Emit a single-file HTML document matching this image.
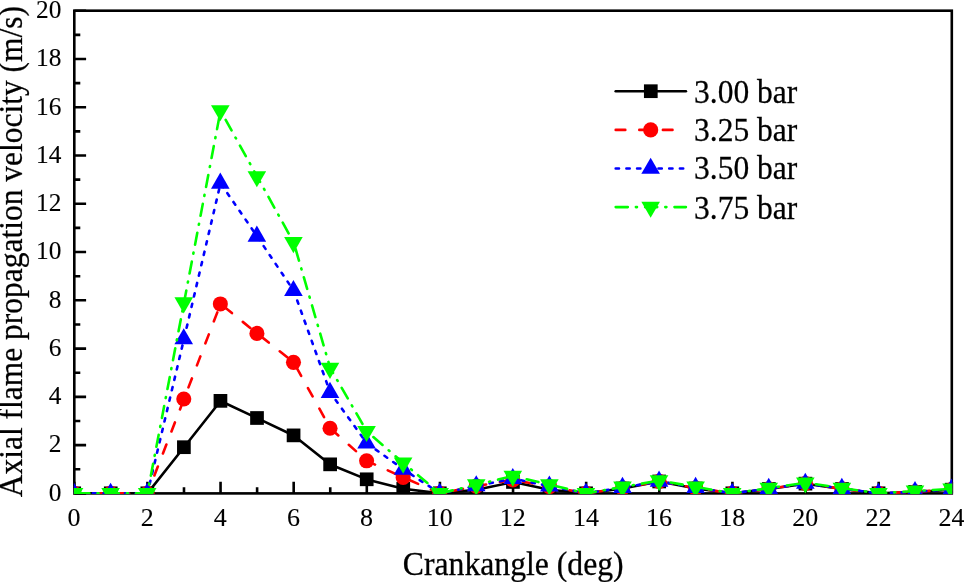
<!DOCTYPE html>
<html><head><meta charset="utf-8"><title>chart</title>
<style>
html,body{margin:0;padding:0;background:#fff;}
body{width:964px;height:582px;overflow:hidden;font-family:"Liberation Serif",serif;}
svg{display:block;will-change:transform;transform:translateZ(0);}
text{font-family:"Liberation Serif",serif;fill:#000;stroke:#000;stroke-width:0.25px;}
</style></head><body>
<svg width="964" height="582" viewBox="0 0 964 582">
<rect x="0" y="0" width="964" height="582" fill="#fff"/>
<defs><clipPath id="cp"><rect x="73.8" y="10" width="878.5" height="484"/></clipPath></defs>

<rect x="74.3" y="10.7" width="877.50" height="482.70" fill="none" stroke="#000" stroke-width="2.6"/>
<path d="M74.30 493.4 V481.80 M110.86 493.4 V487.20 M147.43 493.4 V481.80 M183.99 493.4 V487.20 M220.55 493.4 V481.80 M257.11 493.4 V487.20 M293.68 493.4 V481.80 M330.24 493.4 V487.20 M366.80 493.4 V481.80 M403.36 493.4 V487.20 M439.93 493.4 V481.80 M476.49 493.4 V487.20 M513.05 493.4 V481.80 M549.61 493.4 V487.20 M586.17 493.4 V481.80 M622.74 493.4 V487.20 M659.30 493.4 V481.80 M695.86 493.4 V487.20 M732.42 493.4 V481.80 M768.99 493.4 V487.20 M805.55 493.4 V481.80 M842.11 493.4 V487.20 M878.67 493.4 V481.80 M915.24 493.4 V487.20 M951.80 493.4 V481.80 M74.3 493.40 H86.10 M74.3 469.26 H80.30 M74.3 445.13 H86.10 M74.3 421.00 H80.30 M74.3 396.86 H86.10 M74.3 372.72 H80.30 M74.3 348.59 H86.10 M74.3 324.45 H80.30 M74.3 300.32 H86.10 M74.3 276.18 H80.30 M74.3 252.05 H86.10 M74.3 227.91 H80.30 M74.3 203.78 H86.10 M74.3 179.64 H80.30 M74.3 155.51 H86.10 M74.3 131.38 H80.30 M74.3 107.24 H86.10 M74.3 83.11 H80.30 M74.3 58.97 H86.10 M74.3 34.84 H80.30 M74.3 10.70 H86.10" stroke="#000" stroke-width="2.6" fill="none"/>
<text transform="translate(74.10,526.00) scale(1.0,0.975)" font-size="26" text-anchor="middle" style="stroke-width:0.1px">0</text>
<text transform="translate(147.23,526.00) scale(1.0,0.975)" font-size="26" text-anchor="middle" style="stroke-width:0.1px">2</text>
<text transform="translate(220.35,526.00) scale(1.0,0.975)" font-size="26" text-anchor="middle" style="stroke-width:0.1px">4</text>
<text transform="translate(293.48,526.00) scale(1.0,0.975)" font-size="26" text-anchor="middle" style="stroke-width:0.1px">6</text>
<text transform="translate(366.60,526.00) scale(1.0,0.975)" font-size="26" text-anchor="middle" style="stroke-width:0.1px">8</text>
<text transform="translate(439.73,526.00) scale(1.0,0.975)" font-size="26" text-anchor="middle" style="stroke-width:0.1px">10</text>
<text transform="translate(512.85,526.00) scale(1.0,0.975)" font-size="26" text-anchor="middle" style="stroke-width:0.1px">12</text>
<text transform="translate(585.97,526.00) scale(1.0,0.975)" font-size="26" text-anchor="middle" style="stroke-width:0.1px">14</text>
<text transform="translate(659.10,526.00) scale(1.0,0.975)" font-size="26" text-anchor="middle" style="stroke-width:0.1px">16</text>
<text transform="translate(732.22,526.00) scale(1.0,0.975)" font-size="26" text-anchor="middle" style="stroke-width:0.1px">18</text>
<text transform="translate(805.35,526.00) scale(1.0,0.975)" font-size="26" text-anchor="middle" style="stroke-width:0.1px">20</text>
<text transform="translate(878.47,526.00) scale(1.0,0.975)" font-size="26" text-anchor="middle" style="stroke-width:0.1px">22</text>
<text transform="translate(951.60,526.00) scale(1.0,0.975)" font-size="26" text-anchor="middle" style="stroke-width:0.1px">24</text>
<text transform="translate(61.40,500.75) scale(0.975,0.985)" font-size="26" text-anchor="end" style="stroke-width:0.1px">0</text>
<text transform="translate(61.40,452.48) scale(0.975,0.985)" font-size="26" text-anchor="end" style="stroke-width:0.1px">2</text>
<text transform="translate(61.40,404.21) scale(0.975,0.985)" font-size="26" text-anchor="end" style="stroke-width:0.1px">4</text>
<text transform="translate(61.40,355.94) scale(0.975,0.985)" font-size="26" text-anchor="end" style="stroke-width:0.1px">6</text>
<text transform="translate(61.40,307.67) scale(0.975,0.985)" font-size="26" text-anchor="end" style="stroke-width:0.1px">8</text>
<text transform="translate(61.40,259.40) scale(0.975,0.985)" font-size="26" text-anchor="end" style="stroke-width:0.1px">10</text>
<text transform="translate(61.40,211.13) scale(0.975,0.985)" font-size="26" text-anchor="end" style="stroke-width:0.1px">12</text>
<text transform="translate(61.40,162.86) scale(0.975,0.985)" font-size="26" text-anchor="end" style="stroke-width:0.1px">14</text>
<text transform="translate(61.40,114.59) scale(0.975,0.985)" font-size="26" text-anchor="end" style="stroke-width:0.1px">16</text>
<text transform="translate(61.40,66.32) scale(0.975,0.985)" font-size="26" text-anchor="end" style="stroke-width:0.1px">18</text>
<text transform="translate(61.40,18.05) scale(0.975,0.985)" font-size="26" text-anchor="end" style="stroke-width:0.1px">20</text>
<text transform="translate(513.20,575.00) scale(1.0,1.03)" font-size="31.7" text-anchor="middle">Crankangle (deg)</text>
<text transform="translate(22.30,251.65) rotate(-90) scale(0.9933,1.03)" font-size="31.7" text-anchor="middle">Axial flame propagation velocity (m/s)</text>
<g clip-path="url(#cp)">
<polyline points="74.30,493.40 110.86,493.40 147.43,493.40 183.99,447.30 220.55,400.96 257.11,418.10 293.68,435.48 330.24,464.44 366.80,479.40 403.36,488.81 439.93,493.40 476.49,489.78 513.05,482.06 549.61,489.78 586.17,493.40 622.74,488.57 659.30,481.57 695.86,488.57 732.42,493.40 768.99,489.06 805.55,483.75 842.11,489.06 878.67,493.40 915.24,491.95 951.80,489.78" fill="none" stroke="#000000" stroke-width="2.6" stroke-linecap="round" stroke-linejoin="round"/>
<rect x="67.35" y="486.45" width="13.7" height="13.7" fill="#000000"/>
<rect x="103.91" y="486.45" width="13.7" height="13.7" fill="#000000"/>
<rect x="140.48" y="486.45" width="13.7" height="13.7" fill="#000000"/>
<rect x="177.04" y="440.35" width="13.7" height="13.7" fill="#000000"/>
<rect x="213.60" y="394.01" width="13.7" height="13.7" fill="#000000"/>
<rect x="250.16" y="411.15" width="13.7" height="13.7" fill="#000000"/>
<rect x="286.72" y="428.53" width="13.7" height="13.7" fill="#000000"/>
<rect x="323.29" y="457.49" width="13.7" height="13.7" fill="#000000"/>
<rect x="359.85" y="472.45" width="13.7" height="13.7" fill="#000000"/>
<rect x="396.41" y="481.86" width="13.7" height="13.7" fill="#000000"/>
<rect x="432.97" y="486.45" width="13.7" height="13.7" fill="#000000"/>
<rect x="469.54" y="482.83" width="13.7" height="13.7" fill="#000000"/>
<rect x="506.10" y="475.11" width="13.7" height="13.7" fill="#000000"/>
<rect x="542.66" y="482.83" width="13.7" height="13.7" fill="#000000"/>
<rect x="579.22" y="486.45" width="13.7" height="13.7" fill="#000000"/>
<rect x="615.79" y="481.62" width="13.7" height="13.7" fill="#000000"/>
<rect x="652.35" y="474.62" width="13.7" height="13.7" fill="#000000"/>
<rect x="688.91" y="481.62" width="13.7" height="13.7" fill="#000000"/>
<rect x="725.47" y="486.45" width="13.7" height="13.7" fill="#000000"/>
<rect x="762.04" y="482.11" width="13.7" height="13.7" fill="#000000"/>
<rect x="798.60" y="476.80" width="13.7" height="13.7" fill="#000000"/>
<rect x="835.16" y="482.11" width="13.7" height="13.7" fill="#000000"/>
<rect x="871.72" y="486.45" width="13.7" height="13.7" fill="#000000"/>
<rect x="908.29" y="485.00" width="13.7" height="13.7" fill="#000000"/>
<rect x="944.85" y="482.83" width="13.7" height="13.7" fill="#000000"/>
<polyline points="74.30,493.40 110.86,493.40 147.43,493.40 183.99,399.03 220.55,303.94 257.11,333.38 293.68,362.35 330.24,428.24 366.80,460.82 403.36,477.47 439.93,493.40 476.49,486.16 513.05,479.88 549.61,486.64 586.17,493.40 622.74,488.09 659.30,481.33 695.86,488.09 732.42,493.40 768.99,488.81 805.55,483.50 842.11,488.81 878.67,493.40 915.24,491.71 951.80,489.54" fill="none" stroke="#ff0000" stroke-width="2.6" stroke-linecap="round" stroke-linejoin="round" stroke-dasharray="9.6 14" stroke-dashoffset="2.0"/>
<circle cx="74.10" cy="493.40" r="7.55" fill="#ff0000"/>
<circle cx="110.66" cy="493.40" r="7.55" fill="#ff0000"/>
<circle cx="147.23" cy="493.40" r="7.55" fill="#ff0000"/>
<circle cx="183.79" cy="399.03" r="7.55" fill="#ff0000"/>
<circle cx="220.35" cy="303.94" r="7.55" fill="#ff0000"/>
<circle cx="256.91" cy="333.38" r="7.55" fill="#ff0000"/>
<circle cx="293.48" cy="362.35" r="7.55" fill="#ff0000"/>
<circle cx="330.04" cy="428.24" r="7.55" fill="#ff0000"/>
<circle cx="366.60" cy="460.82" r="7.55" fill="#ff0000"/>
<circle cx="403.16" cy="477.47" r="7.55" fill="#ff0000"/>
<circle cx="439.73" cy="493.40" r="7.55" fill="#ff0000"/>
<circle cx="476.29" cy="486.16" r="7.55" fill="#ff0000"/>
<circle cx="512.85" cy="479.88" r="7.55" fill="#ff0000"/>
<circle cx="549.41" cy="486.64" r="7.55" fill="#ff0000"/>
<circle cx="585.97" cy="493.40" r="7.55" fill="#ff0000"/>
<circle cx="622.54" cy="488.09" r="7.55" fill="#ff0000"/>
<circle cx="659.10" cy="481.33" r="7.55" fill="#ff0000"/>
<circle cx="695.66" cy="488.09" r="7.55" fill="#ff0000"/>
<circle cx="732.22" cy="493.40" r="7.55" fill="#ff0000"/>
<circle cx="768.79" cy="488.81" r="7.55" fill="#ff0000"/>
<circle cx="805.35" cy="483.50" r="7.55" fill="#ff0000"/>
<circle cx="841.91" cy="488.81" r="7.55" fill="#ff0000"/>
<circle cx="878.47" cy="493.40" r="7.55" fill="#ff0000"/>
<circle cx="915.04" cy="491.71" r="7.55" fill="#ff0000"/>
<circle cx="951.60" cy="489.54" r="7.55" fill="#ff0000"/>
<polyline points="74.30,493.40 110.86,493.40 147.43,493.40 183.99,338.94 220.55,183.27 257.11,236.36 293.68,290.67 330.24,392.52 366.80,443.20 403.36,469.26 439.93,493.40 476.49,485.92 513.05,478.68 549.61,486.16 586.17,493.40 622.74,487.61 659.30,481.33 695.86,487.61 732.42,493.40 768.99,488.57 805.55,483.50 842.11,488.57 878.67,493.40 915.24,491.71 951.80,489.30" fill="none" stroke="#0000ff" stroke-width="2.6" stroke-linecap="round" stroke-linejoin="round" stroke-dasharray="3.3 7.4" stroke-dashoffset="2.8"/>
<polygon points="74.05,482.66 64.75,498.77 83.35,498.77" fill="#0000ff"/>
<polygon points="110.61,482.66 101.31,498.77 119.91,498.77" fill="#0000ff"/>
<polygon points="147.18,482.66 137.88,498.77 156.48,498.77" fill="#0000ff"/>
<polygon points="183.74,328.20 174.44,344.31 193.04,344.31" fill="#0000ff"/>
<polygon points="220.30,172.53 211.00,188.63 229.60,188.63" fill="#0000ff"/>
<polygon points="256.86,225.62 247.56,241.73 266.16,241.73" fill="#0000ff"/>
<polygon points="293.43,279.93 284.12,296.04 302.73,296.04" fill="#0000ff"/>
<polygon points="329.99,381.78 320.69,397.89 339.29,397.89" fill="#0000ff"/>
<polygon points="366.55,432.46 357.25,448.57 375.85,448.57" fill="#0000ff"/>
<polygon points="403.11,458.53 393.81,474.63 412.41,474.63" fill="#0000ff"/>
<polygon points="439.68,482.66 430.38,498.77 448.98,498.77" fill="#0000ff"/>
<polygon points="476.24,475.18 466.94,491.29 485.54,491.29" fill="#0000ff"/>
<polygon points="512.80,467.94 503.50,484.05 522.10,484.05" fill="#0000ff"/>
<polygon points="549.36,475.42 540.06,491.53 558.66,491.53" fill="#0000ff"/>
<polygon points="585.92,482.66 576.62,498.77 595.22,498.77" fill="#0000ff"/>
<polygon points="622.49,476.87 613.19,492.98 631.79,492.98" fill="#0000ff"/>
<polygon points="659.05,470.59 649.75,486.70 668.35,486.70" fill="#0000ff"/>
<polygon points="695.61,476.87 686.31,492.98 704.91,492.98" fill="#0000ff"/>
<polygon points="732.17,482.66 722.88,498.77 741.47,498.77" fill="#0000ff"/>
<polygon points="768.74,477.83 759.44,493.94 778.04,493.94" fill="#0000ff"/>
<polygon points="805.30,472.77 796.00,488.87 814.60,488.87" fill="#0000ff"/>
<polygon points="841.86,477.83 832.56,493.94 851.16,493.94" fill="#0000ff"/>
<polygon points="878.42,482.66 869.12,498.77 887.72,498.77" fill="#0000ff"/>
<polygon points="914.99,480.97 905.69,497.08 924.29,497.08" fill="#0000ff"/>
<polygon points="951.55,478.56 942.25,494.67 960.85,494.67" fill="#0000ff"/>
<polyline points="74.30,493.40 110.86,493.40 147.43,493.40 183.99,302.73 220.55,110.62 257.11,176.51 293.68,242.40 330.24,368.14 366.80,431.37 403.36,462.99 439.93,493.40 476.49,484.71 513.05,476.02 549.61,484.71 586.17,493.40 622.74,486.88 659.30,480.61 695.86,486.88 732.42,493.40 768.99,488.09 805.55,482.78 842.11,488.09 878.67,493.40 915.24,490.99 951.80,488.81" fill="none" stroke="#00ff00" stroke-width="2.6" stroke-linecap="round" stroke-linejoin="round" stroke-dasharray="12.1 8.1 1.1 8.1" stroke-dashoffset="-3.0"/>
<polygon points="74.05,504.14 64.75,488.03 83.35,488.03" fill="#00ff00"/>
<polygon points="110.61,504.14 101.31,488.03 119.91,488.03" fill="#00ff00"/>
<polygon points="147.18,504.14 137.88,488.03 156.48,488.03" fill="#00ff00"/>
<polygon points="183.74,313.47 174.44,297.36 193.04,297.36" fill="#00ff00"/>
<polygon points="220.30,121.36 211.00,105.25 229.60,105.25" fill="#00ff00"/>
<polygon points="256.86,187.25 247.56,171.14 266.16,171.14" fill="#00ff00"/>
<polygon points="293.43,253.13 284.12,237.03 302.73,237.03" fill="#00ff00"/>
<polygon points="329.99,378.88 320.69,362.77 339.29,362.77" fill="#00ff00"/>
<polygon points="366.55,442.11 357.25,426.00 375.85,426.00" fill="#00ff00"/>
<polygon points="403.11,473.73 393.81,457.62 412.41,457.62" fill="#00ff00"/>
<polygon points="439.68,504.14 430.38,488.03 448.98,488.03" fill="#00ff00"/>
<polygon points="476.24,495.45 466.94,479.34 485.54,479.34" fill="#00ff00"/>
<polygon points="512.80,486.76 503.50,470.65 522.10,470.65" fill="#00ff00"/>
<polygon points="549.36,495.45 540.06,479.34 558.66,479.34" fill="#00ff00"/>
<polygon points="585.92,504.14 576.62,488.03 595.22,488.03" fill="#00ff00"/>
<polygon points="622.49,497.62 613.19,481.51 631.79,481.51" fill="#00ff00"/>
<polygon points="659.05,491.35 649.75,475.24 668.35,475.24" fill="#00ff00"/>
<polygon points="695.61,497.62 686.31,481.51 704.91,481.51" fill="#00ff00"/>
<polygon points="732.17,504.14 722.88,488.03 741.47,488.03" fill="#00ff00"/>
<polygon points="768.74,498.83 759.44,482.72 778.04,482.72" fill="#00ff00"/>
<polygon points="805.30,493.52 796.00,477.41 814.60,477.41" fill="#00ff00"/>
<polygon points="841.86,498.83 832.56,482.72 851.16,482.72" fill="#00ff00"/>
<polygon points="878.42,504.14 869.12,488.03 887.72,488.03" fill="#00ff00"/>
<polygon points="914.99,501.73 905.69,485.62 924.29,485.62" fill="#00ff00"/>
<polygon points="951.55,499.55 942.25,483.44 960.85,483.44" fill="#00ff00"/>
</g>
<line x1="615.7" y1="91.3" x2="685.9" y2="91.3" stroke="#000000" stroke-width="2.6" stroke-linecap="round"/>
<rect x="643.95" y="84.35" width="13.7" height="13.7" fill="#000000"/>
<text transform="translate(694.00,102.50) scale(0.995,1.03)" font-size="31.7" text-anchor="start">3.00 bar</text>
<line x1="615.7" y1="129.9" x2="685.9" y2="129.9" stroke="#ff0000" stroke-width="2.6" stroke-linecap="round" stroke-dasharray="9.6 14"/>
<circle cx="650.70" cy="129.90" r="7.55" fill="#ff0000"/>
<text transform="translate(694.00,141.40) scale(0.995,1.03)" font-size="31.7" text-anchor="start">3.25 bar</text>
<line x1="615.7" y1="168.5" x2="685.9" y2="168.5" stroke="#0000ff" stroke-width="2.6" stroke-linecap="round" stroke-dasharray="3.3 7.4"/>
<polygon points="650.65,157.76 641.35,173.87 659.95,173.87" fill="#0000ff"/>
<text transform="translate(694.00,179.20) scale(0.995,1.03)" font-size="31.7" text-anchor="start">3.50 bar</text>
<line x1="615.7" y1="207.1" x2="685.9" y2="207.1" stroke="#00ff00" stroke-width="2.6" stroke-linecap="round" stroke-dasharray="12.1 8.1 1.1 8.1"/>
<polygon points="650.65,217.84 641.35,201.73 659.95,201.73" fill="#00ff00"/>
<text transform="translate(694.00,218.50) scale(0.995,1.03)" font-size="31.7" text-anchor="start">3.75 bar</text>
</svg></body></html>
